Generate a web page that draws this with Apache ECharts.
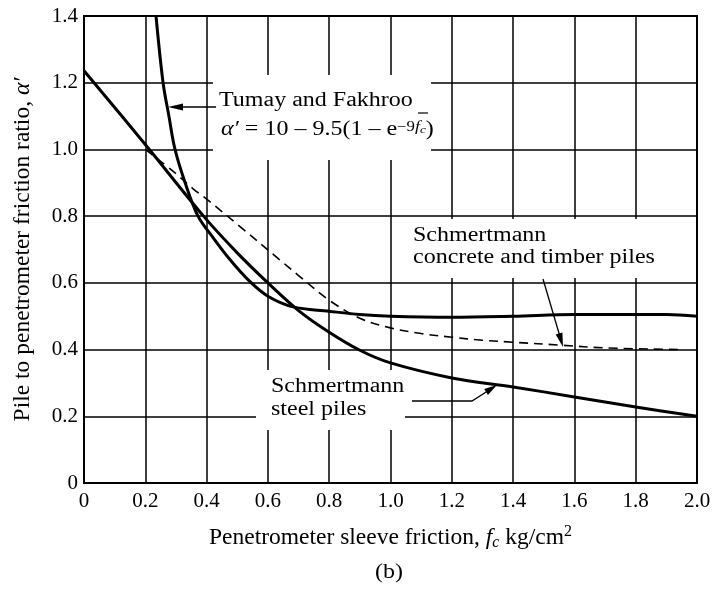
<!DOCTYPE html>
<html>
<head>
<meta charset="utf-8">
<script src="https://cdn.jsdelivr.net/npm/echarts@6/dist/echarts.min.js"></script>
<style>
html,body{margin:0;padding:0;background:#fff;}
#chart{width:714px;height:594px;}
</style>
</head>
<body>
<div id="chart"></div>
<script>
// ---- data ----
const xTickLabels = ['0','0.2','0.4','0.6','0.8','1.0','1.2','1.4','1.6','1.8','2.0'];
const yTickLabels = ['0','0.2','0.4','0.6','0.8','1.0','1.2','1.4'];

const tumayX = [0.235,0.258,0.277,0.297,0.33,0.372,0.42,0.476,0.54,0.6,0.682,0.8,0.9,1.0,1.2,1.4,1.6,1.8,1.9,2.0];
const tumayY = [1.40,1.20,1.10,1.00,0.90,0.80,0.737,0.67,0.605,0.56,0.528,0.515,0.505,0.50,0.497,0.50,0.505,0.505,0.505,0.50];

const steelX = [0,0.2,0.39,0.5,0.6,0.7,0.8,0.9,1.0,1.2,1.4,1.6,1.8,2.0];
const steelY = [1.236,1.015,0.80,0.69,0.60,0.517,0.452,0.398,0.36,0.315,0.288,0.258,0.228,0.20];

const concX = [0.2,0.29,0.356,0.395,0.51,0.64,0.7,0.8,0.9,1.0,1.1,1.2,1.3,1.4,1.56,1.7,1.95];
const concY = [1.0,0.935,0.882,0.855,0.768,0.668,0.622,0.548,0.494,0.465,0.448,0.437,0.428,0.422,0.413,0.405,0.40];

const zip = (xs, ys) => xs.map((x, i) => [x, ys[i]]);

const FONT = '"Liberation Serif", "DejaVu Serif", serif';
const SX = 1.2; // reference glyphs are wider than they are tall
const chart = echarts.init(document.getElementById('chart'));

function arrowHead(tip, from, len, half) {
  const dx = tip[0] - from[0], dy = tip[1] - from[1];
  const L = Math.hypot(dx, dy);
  const ux = dx / L, uy = dy / L;
  const bx = tip[0] - ux * len, by = tip[1] - uy * len;
  const px = -uy * half, py = ux * half;
  return {
    type: 'polygon', z: 6,
    shape: { points: [tip, [bx + px, by + py], [bx - px, by - py]] },
    style: { fill: '#000' }
  };
}
function txt(x, y, text, extra) {
  return {
    type: 'text', z: 6, x: x, y: y, scaleX: SX,
    style: Object.assign({ text: text, font: '20px ' + FONT, fill: '#000', textVerticalAlign: 'middle' }, extra || {})
  };
}
function whiteRect(x, y, w, h) {
  return { type: 'rect', z: 1, shape: { x: x, y: y, width: w, height: h }, style: { fill: '#fff' } };
}
function polyline(points, w) {
  return { type: 'polyline', z: 6, shape: { points: points }, style: { stroke: '#000', lineWidth: w || 1.3, fill: null } };
}

const lineCommon = { showSymbol: false, symbol: 'none', smooth: 0.35, z: 3 };

const option = {
  animation: false,
  backgroundColor: '#fff',
  grid: { left: 84, right: 17, top: 16, bottom: 111, show: true, borderColor: '#000', borderWidth: 2, backgroundColor: 'transparent' },
  xAxis: {
    type: 'value', min: 0, max: 2, interval: 0.2,
    axisLine: { show: true, lineStyle: { color: '#000', width: 2 } },
    axisTick: { show: false },
    splitLine: { show: true, lineStyle: { color: '#000', width: 1.5 } },
    axisLabel: {
      color: '#000', fontFamily: FONT, fontSize: 21, margin: 8,
      formatter: (v) => xTickLabels[Math.round(v / 0.2)]
    },
    name: 'Penetrometer sleeve friction, {i|f}{sub|c} kg/cm{sup|2}',
    nameLocation: 'middle', nameGap: 41,
    nameTextStyle: {
      color: '#000', fontFamily: FONT, fontSize: 23.5, lineHeight: 27,
      rich: {
        i: { fontFamily: FONT, fontSize: 23.5, fontStyle: 'italic', color: '#000', lineHeight: 27 },
        sub: { fontFamily: FONT, fontSize: 16, fontStyle: 'italic', color: '#000', verticalAlign: 'bottom', lineHeight: 19 },
        sup: { fontFamily: FONT, fontSize: 16, color: '#000', verticalAlign: 'top', lineHeight: 16 }
      }
    }
  },
  yAxis: {
    type: 'value', min: 0, max: 1.4, interval: 0.2,
    axisLine: { show: true, lineStyle: { color: '#000', width: 2 } },
    axisTick: { show: false },
    splitLine: { show: true, lineStyle: { color: '#000', width: 1.5 } },
    axisLabel: {
      color: '#000', fontFamily: FONT, fontSize: 21, margin: 6,
      formatter: (v) => yTickLabels[Math.round(v / 0.2)]
    },
    name: 'Pile to penetrometer friction ratio, {i|α′}',
    nameLocation: 'middle', nameGap: 49,
    nameTextStyle: {
      color: '#000', fontFamily: FONT, fontSize: 23.5,
      rich: { i: { fontFamily: FONT, fontSize: 23.5, fontStyle: 'italic', color: '#000' } }
    }
  },
  series: [
    Object.assign({ name: 'Tumay and Fakhroo', type: 'line', data: zip(tumayX, tumayY),
      lineStyle: { color: '#000', width: 3 } }, lineCommon),
    Object.assign({ name: 'Schmertmann steel piles', type: 'line', data: zip(steelX, steelY),
      lineStyle: { color: '#000', width: 3 } }, lineCommon),
    Object.assign({ name: 'Schmertmann concrete and timber piles', type: 'line', data: zip(concX, concY),
      lineStyle: { color: '#000', width: 1.6, type: [9, 6] } }, lineCommon)
  ],
  graphic: [
    // label backgrounds (break grid lines)
    whiteRect(213, 75, 218, 85),
    whiteRect(396, 219, 298, 59),
    whiteRect(256, 370, 149, 60),
    // Tumay & Fakhroo
    txt(219, 101, 'Tumay and Fakhroo'),
    txt(221, 130, '{a|α′} = 10 – 9.5(1 – e{s|−9}{f|f}{c|c})', {
      rich: {
        a: { font: 'italic 20px ' + FONT },
        s: { font: '14px ' + FONT, verticalAlign: 'top', lineHeight: 14 },
        f: { font: 'italic 15px ' + FONT, verticalAlign: 'top', lineHeight: 15 },
        c: { font: 'italic 11px ' + FONT, verticalAlign: 'middle', lineHeight: 11 }
      }
    }),
    { type: 'line', z: 6, shape: { x1: 418, y1: 113, x2: 428, y2: 113 }, style: { stroke: '#000', lineWidth: 1.2 } },
    polyline([[216, 107], [176, 107]]),
    arrowHead([168, 107], [216, 107], 15, 3.5),
    // concrete & timber
    txt(413, 236, 'Schmertmann'),
    txt(413, 258, 'concrete and timber piles'),
    polyline([[543, 279], [559.5, 335]]),
    arrowHead([563, 347], [543, 279], 14, 3.5),
    // steel
    txt(271, 387, 'Schmertmann'),
    txt(271, 410, 'steel piles'),
    polyline([[412, 401], [472, 401], [490, 389.5]]),
    arrowHead([497, 385], [472, 401], 13, 3.5),
    // caption
    txt(389, 573, '(b)', { textAlign: 'center' })
  ]
};
chart.setOption(option);
</script>
</body>
</html>
